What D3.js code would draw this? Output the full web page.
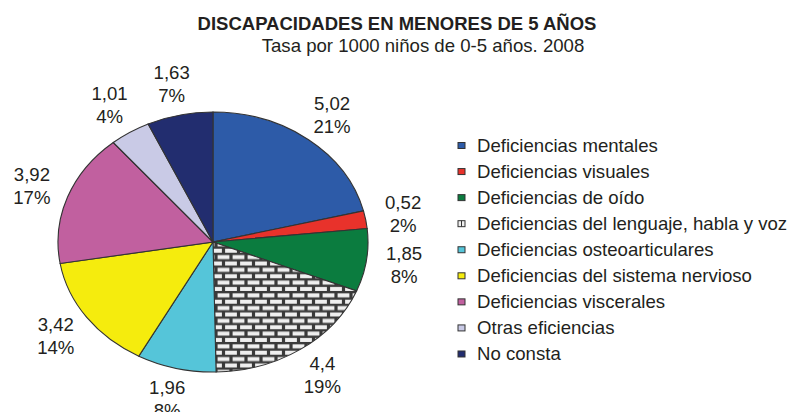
<!DOCTYPE html>
<html>
<head>
<meta charset="utf-8">
<script src="https://cdn.jsdelivr.net/npm/d3@7"></script>
<style>
  body { margin: 0; background: #fff; }
  text { font-family: "Liberation Sans", Arial, sans-serif; fill: #231f20; }
</style>
</head>
<body>
<div id="chart"></div>
<script>
// data
var categories = [
  "Deficiencias mentales",
  "Deficiencias visuales",
  "Deficiencias de oído",
  "Deficiencias del lenguaje, habla y voz",
  "Deficiencias osteoarticulares",
  "Deficiencias del sistema nervioso",
  "Deficiencias viscerales",
  "Otras eficiencias",
  "No consta"
];
var values = [5.02, 0.52, 1.85, 4.4, 1.96, 3.42, 3.92, 1.01, 1.63];
var percents = ["21%", "2%", "8%", "19%", "8%", "14%", "17%", "4%", "7%"];
var colors = ["#2d5ba8", "#e8322b", "#0b7c3f", "url(#brick)", "#55c5d9",
  "#f5ec0d", "#c1609f", "#c9cae6", "#222d6f"];

var width = 791, height = 412;
var cx = 213, cy = 242, rx = 155, ry = 130;

var svg = d3.select("#chart").append("svg")
  .attr("width", width)
  .attr("height", height);

// brick pattern for lenguaje
var defs = svg.append("defs");
var pat = defs.append("pattern")
  .attr("id", "brick")
  .attr("patternUnits", "userSpaceOnUse")
  .attr("width", 15)
  .attr("height", 15.2)
  .attr("x", cx)
  .attr("y", cy);
pat.append("rect").attr("width", 15).attr("height", 15.2).attr("fill", "#3a3a3a");
pat.append("rect").attr("x", 1.6).attr("y", 1.6).attr("width", 11.8).attr("height", 4.8).attr("fill", "#efefef");
pat.append("rect").attr("x", -5.9).attr("y", 9.2).attr("width", 11.8).attr("height", 4.8).attr("fill", "#efefef");
pat.append("rect").attr("x", 9.1).attr("y", 9.2).attr("width", 11.8).attr("height", 4.8).attr("fill", "#efefef");

// titles
svg.append("text")
  .attr("x", 397).attr("y", 30)
  .attr("text-anchor", "middle")
  .style("font-weight", "bold")
  .style("font-size", "18.5px")
  .text("DISCAPACIDADES EN MENORES DE 5 AÑOS");
svg.append("text")
  .attr("x", 423).attr("y", 52)
  .attr("text-anchor", "middle")
  .style("font-size", "18.6px")
  .text("Tasa por 1000 niños de 0-5 años. 2008");

// pie, drawn as a circle scaled vertically into an ellipse
var pie = d3.pie().sort(null).value(d => d);
var arcs = pie(values);
var arc = d3.arc().innerRadius(0).outerRadius(rx);

var g = svg.append("g")
  .attr("transform", "translate(" + cx + "," + cy + ") scale(1," + (ry / rx) + ")");
g.selectAll("path")
  .data(arcs)
  .join("path")
  .attr("d", arc)
  .attr("fill", (d, i) => colors[i])
  .attr("stroke", "#333")
  .attr("stroke-width", 1.1)
  .attr("vector-effect", "non-scaling-stroke");

// labels
var labelR = 193;
var fmt = v => String(v).replace(".", ",");
var lab = svg.append("g").selectAll("text")
  .data(arcs)
  .join("text")
  .attr("text-anchor", "middle")
  .style("font-size", "18.6px")
  .attr("transform", function (d) {
    var a = (d.startAngle + d.endAngle) / 2;
    var x = cx + labelR * Math.sin(a);
    var y = cy - labelR * Math.cos(a) * ry / rx;
    return "translate(" + x + "," + y + ")";
  });
lab.append("tspan").attr("x", 0).attr("y", -5).text(d => fmt(d.data));
lab.append("tspan").attr("x", 0).attr("y", 18).text((d, i) => percents[i]);

// legend
var y0 = 151.5, step = 26.06;
var leg = svg.append("g").selectAll("g")
  .data(categories)
  .join("g")
  .attr("transform", (d, i) => "translate(458," + (y0 + i * step) + ")");
leg.append("rect")
  .attr("x", 0).attr("y", -9)
  .attr("width", 7).attr("height", 6)
  .attr("fill", (d, i) => i === 3 ? "#efefef" : colors[i])
  .attr("stroke", "#333")
  .attr("stroke-width", 1);
leg.filter((d, i) => i === 3).append("line")
  .attr("x1", 3.5).attr("x2", 3.5).attr("y1", -9).attr("y2", -3)
  .attr("stroke", "#333");
leg.append("text")
  .attr("x", 19).attr("y", 0)
  .style("font-size", "18.6px")
  .text(d => d);
</script>
</body>
</html>
